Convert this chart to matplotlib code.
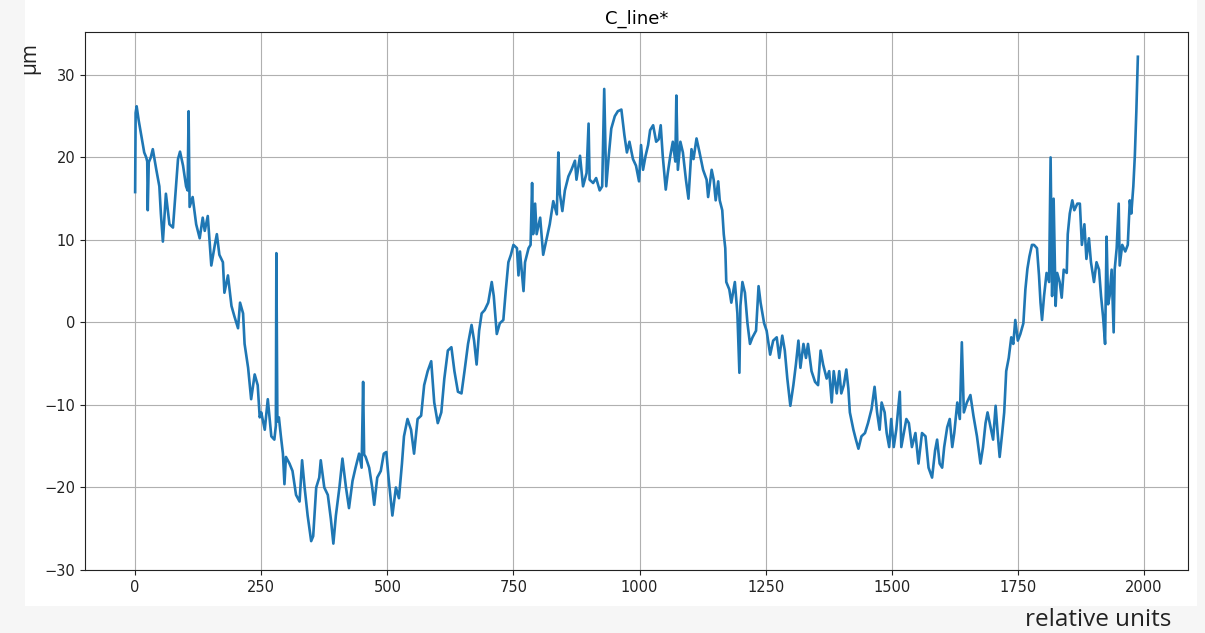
import numpy as np
from matplotlib import pyplot as plt
from matplotlib.patches import Rectangle

# values (relative units, um)
positions = [
    0, 1, 3, 7, 12, 18, 22, 24, 25, 27, 31, 35, 42, 48, 51, 55, 61, 68, 75, 81, 85, 89, 95, 101, 104, 106, 108,
    114, 121, 128, 134, 138, 144, 151, 158, 162, 167, 174, 177, 184, 191, 197, 204, 208, 214, 217, 224, 230,
    237, 243, 247,
    250, 257, 263, 270, 276, 279, 280, 282, 285, 289, 293, 296, 299, 306, 312, 319, 326, 331, 336, 342, 349,
    353, 359, 365, 368, 375, 382, 388, 393, 398, 405, 411, 418, 424, 431, 437, 444, 449, 452, 454, 457, 464,
    470, 474, 480, 487, 493, 498,
    503, 510, 517, 523, 529, 533, 540, 547, 553, 560, 567, 573, 580, 587, 593, 600, 607, 613, 620, 627, 633,
    640, 647, 653, 660, 667, 672, 677, 682, 687, 693, 700, 707, 711, 717, 723, 730, 735, 740, 745, 750,
    757, 760, 763, 770, 773, 780, 784, 787, 789, 793, 796, 803, 809, 816, 822, 829, 836, 839, 842, 847, 852,
    859, 865, 872, 875, 882, 888, 895, 899, 901, 908, 914, 921, 926, 930, 934, 939, 944, 951, 957, 964, 970,
    975, 980, 987, 993, 999,
    1003, 1007, 1012, 1017, 1021, 1027, 1033, 1038, 1042, 1046, 1052, 1056, 1061, 1066, 1071, 1073, 1076,
    1081, 1086, 1092, 1097, 1103, 1107, 1113, 1119, 1126, 1133, 1136, 1143, 1147, 1151, 1156, 1159, 1164,
    1167, 1170, 1172, 1178, 1182, 1189, 1194, 1198, 1200, 1204, 1209, 1214, 1219, 1224, 1231, 1236, 1240,
    1247, 1252,
    1259, 1265, 1272, 1277, 1283, 1288, 1293, 1299, 1305, 1310, 1315, 1319, 1325, 1330, 1334, 1341, 1348,
    1354, 1359, 1364, 1371, 1376, 1381, 1385, 1391, 1396, 1400, 1405, 1410, 1414, 1417, 1424, 1429, 1434,
    1440, 1447, 1453, 1460, 1466, 1471, 1476, 1480, 1486, 1490, 1495, 1499, 1504, 1509, 1516, 1519, 1524,
    1529, 1534,
    1540, 1547, 1553, 1560, 1567, 1573, 1580, 1586, 1590, 1595, 1600, 1604, 1610, 1615, 1620, 1624, 1630,
    1635, 1639, 1643, 1649, 1656, 1662, 1669, 1676, 1681, 1686, 1690, 1696, 1701, 1706, 1710, 1714, 1719,
    1723, 1727, 1732, 1737, 1741, 1745, 1750, 1755, 1761, 1765, 1769, 1773, 1778,
    1782, 1788, 1792, 1795, 1798, 1802, 1807, 1812, 1815, 1818, 1821, 1825, 1828, 1833, 1837, 1841, 1847,
    1849, 1853, 1858, 1862, 1868, 1873, 1877, 1882, 1886, 1891, 1895, 1901, 1906, 1911, 1915, 1919, 1923,
    1926, 1929, 1932, 1936, 1940, 1942, 1946, 1950, 1952, 1957, 1963, 1968, 1972, 1975, 1979, 1982, 1985,
    1988,
]
values = [
    15.8, 25.4, 26.2, 24.5, 22.7, 20.6, 20.0, 19.5, 13.6, 19.4, 20.0, 21.0, 18.5, 16.5, 13.2, 9.8, 15.6, 11.9,
    11.5, 16.5, 19.8, 20.7, 19.0, 16.5, 16.0, 25.6, 14.0,
    15.2, 11.9, 10.2, 12.7, 11.1, 12.9, 6.9, 9.4, 10.7, 8.2, 7.3, 3.6, 5.7, 2.0, 0.7, -0.7, 2.4, 1.1, -2.6,
    -5.5, -9.3, -6.3, -7.6, -11.5,
    -10.9, -13.0, -9.3, -13.8, -14.2, -12.5, 8.4, -12.0, -11.5, -13.8, -15.9, -19.6, -16.3, -17.1, -18.0,
    -20.9, -21.7, -16.7, -20.0, -23.4, -26.5, -25.9, -20.0, -18.8, -16.7, -20.0, -20.9, -23.8, -26.8, -23.4,
    -20.0, -16.5, -20.0, -22.5, -19.2, -17.6, -15.9, -17.6, -7.2, -16.0, -16.3, -17.6, -20.0, -22.1, -18.8,
    -18.0, -15.9, -15.7,
    -19.2, -23.4, -20.0, -21.3, -17.1, -13.8, -11.7, -13.0, -15.9, -11.7, -11.3, -7.6, -5.9, -4.7, -9.7,
    -12.2, -10.9, -6.8, -3.4, -3.0, -5.9, -8.4, -8.6, -5.9, -2.6, -0.3, -2.2, -5.1, -1.0, 1.1, 1.5, 2.4, 4.9,
    3.2, -1.4, -0.1, 0.3, 4.0, 7.3, 8.2, 9.4,
    9.0, 5.7, 8.6, 3.8, 7.3, 9.0, 9.4, 16.9, 10.7, 14.4, 10.7, 12.7, 8.2, 10.2, 11.9, 14.7, 13.1, 20.6, 15.6,
    13.5, 16.0, 17.7, 18.5, 19.6, 17.3, 20.2, 16.5, 18.1, 24.1, 17.3, 16.9, 17.5, 16.0, 16.5, 28.3, 16.5,
    20.2, 23.5, 25.0, 25.6, 25.8, 22.7, 20.6, 21.9, 19.8, 19.0, 17.1,
    21.5, 18.5, 20.2, 21.5, 23.3, 23.9, 21.9, 22.2, 23.9, 20.2, 16.1, 18.1, 20.2, 21.9, 19.5, 27.5, 18.5,
    21.9, 20.6, 17.3, 15.0, 21.0, 19.8, 22.3, 20.6, 18.5, 17.3, 15.2, 18.5, 17.3, 14.8, 17.1, 14.8, 13.6,
    10.7, 9.0, 4.9, 4.0, 2.4, 4.9, 1.1, -6.1, 2.0, 4.9, 3.6, -0.1, -2.6, -1.8, -1.0, 4.4, 2.4, -0.1, -1.0,
    -3.9, -2.2, -1.8, -4.3, -1.6, -3.4, -6.8, -10.1, -7.6, -5.1, -2.2, -5.5, -2.6, -4.3, -2.6, -5.9, -7.2,
    -7.6, -3.4, -5.1, -6.8, -5.9, -9.7, -5.9, -8.6, -5.9, -8.6, -7.6, -5.7, -8.0, -10.9, -13.0, -14.2, -15.3,
    -13.8, -13.4, -12.2, -10.5, -7.8, -10.9, -13.0, -9.7, -10.9, -13.4, -15.1, -11.7, -15.1, -13.0, -8.4,
    -15.1, -13.4, -11.7, -12.2,
    -15.1, -13.4, -17.1, -13.4, -13.8, -17.6, -18.8, -15.5, -14.2, -17.1, -17.6, -15.1, -12.7, -11.7, -15.1,
    -13.4, -9.7, -11.7, -2.4, -10.9, -9.7, -8.8, -11.3, -13.8, -17.1, -15.1, -12.2, -10.9, -12.7, -14.2,
    -10.1, -13.4, -16.3, -13.4, -10.9, -5.9, -4.3, -1.8, -2.6, 0.3, -2.2, -1.4, -0.1, 4.0, 6.5, 8.0, 9.4,
    9.4, 9.0, 5.7, 2.4, 0.3, 3.2, 6.0, 4.9, 20.0, 3.2, 15.0, 2.0, 6.0, 4.9, 3.0, 6.4, 6.0, 10.7, 13.2, 14.8,
    13.6, 14.4, 14.4, 9.4, 11.9, 7.7, 10.2, 7.3, 4.9, 7.3, 6.4, 3.2, 0.7, -2.6, 10.4, 2.2, 3.2, 6.4, -1.2,
    6.4, 9.0, 14.4, 6.9, 9.4, 8.6, 9.4, 14.8, 13.2, 16.5, 20.2, 25.6, 32.2,
]

x = np.array(positions)
y = np.array(values)

fig = plt.figure(figsize=(12.05, 6.33), dpi=100, facecolor='#f6f6f6')

# white page area behind the plot (screenshot look)
fig.add_artist(Rectangle((25 / 1205, 1 - 606 / 633), 1172 / 1205, 606 / 633,
                         transform=fig.transFigure, facecolor='white', edgecolor='none', zorder=-1))

ax = fig.add_axes([85 / 1205, 1 - 570 / 633, (1188 - 85) / 1205, (570 - 32) / 633])
ax.plot(x, y, color='#1f77b4', linewidth=1.9)

ax.set_xlim(-99.4, 2087.4)
ax.set_ylim(-30, 35.2)
ax.set_xticks([0, 250, 500, 750, 1000, 1250, 1500, 1750, 2000])
ax.set_yticks([-30, -20, -10, 0, 10, 20, 30])
ax.tick_params(labelsize=10.5, colors='#222222')
for s in ax.spines.values():
    s.set_color('#222222')
ax.grid(True, color='#b0b0b0', linewidth=0.8)
ax.set_axisbelow(True)
ax.set_title('C_line*', fontsize=13, pad=6)

fig.text(30 / 1205, 1 - 58 / 633, 'μm', rotation=90, ha='center', va='center',
         fontsize=15, family='Open Sans', color='#222222')
fig.text(1098 / 1205, 1 - 620 / 633, 'relative units', ha='center', va='center',
         fontsize=17.5, family='Open Sans', color='#222222')

fig.savefig('out.png', dpi=100, facecolor=fig.get_facecolor())
